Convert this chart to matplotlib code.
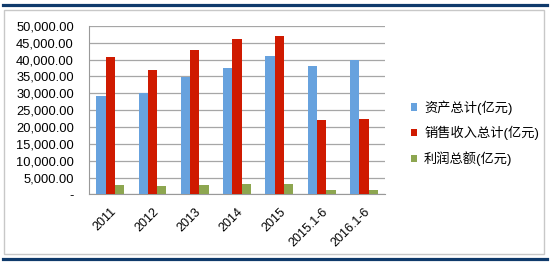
import matplotlib.pyplot as plt
import numpy as np
from matplotlib.lines import Line2D
from matplotlib.patches import Rectangle

plt.rcParams['font.family'] = ['Liberation Sans', 'Noto Sans CJK SC', 'DejaVu Sans']

years = ["2011", "2012", "2013", "2014", "2015", "2015.1-6", "2016.1-6"]
assets = [29300, 30000, 34950, 37500, 41200, 38100, 39900]
sales = [40700, 36900, 42850, 46100, 47000, 22050, 22250]
profit = [2770, 2580, 2770, 2970, 2970, 1390, 1390]
labels = ["资产总计(亿元)", "销售收入总计(亿元)", "利润总额(亿元)"]
colors = ["#67a2de", "#cf1a00", "#8da650"]

fig = plt.figure(figsize=(5.5, 2.62), dpi=100)
ax = fig.add_axes([0.162, 0.258, 0.538, 0.643])

x = np.arange(len(years))
w = 0.22
for i, (vals, lab, c) in enumerate(zip([assets, sales, profit], labels, colors)):
    ax.bar(x + (i - 1) * w, vals, w, color=c, label=lab, zorder=3)

ax.set_xlim(-0.5, len(years) - 0.5)
ax.set_ylim(0, 50000)
ticks = np.arange(0, 50001, 5000)
ax.set_yticks(ticks)
ax.set_yticklabels(["-"] + ["{:,.2f}".format(t) for t in ticks[1:]], fontsize=9.3)
ax.set_xticks(x)
ax.set_xticklabels(years, rotation=45, ha="right", rotation_mode="anchor", fontsize=9)
ax.tick_params(length=0, pad=8)
ax.tick_params(axis="y", pad=11)
ax.grid(axis="y", color="#a6a6a6", linewidth=0.9, zorder=0)
for s in ["top", "right"]:
    ax.spines[s].set_visible(False)
for s in ["left", "bottom"]:
    ax.spines[s].set_color("#999999")

fig.legend(loc="center left", bbox_to_anchor=(0.735, 0.492), frameon=False,
           fontsize=9.5, handlelength=0.5, handleheight=0.5, handletextpad=0.5,
           labelspacing=0.85, borderpad=0)

# report-style frame
fig.add_artist(Rectangle((3.5 / 550, 8 / 262), 540 / 550, 244 / 262,
                         transform=fig.transFigure, fill=False,
                         edgecolor="#c8c8c8", linewidth=1))
fig.add_artist(Line2D([3 / 550, 547 / 550], [1 - 4.5 / 262] * 2,
                      transform=fig.transFigure, color="#0f3a6b", linewidth=2.3))
fig.add_artist(Line2D([3 / 550, 547 / 550], [3.5 / 262] * 2,
                      transform=fig.transFigure, color="#0f3a6b", linewidth=2.3))

fig.savefig("out.png", dpi=100)
